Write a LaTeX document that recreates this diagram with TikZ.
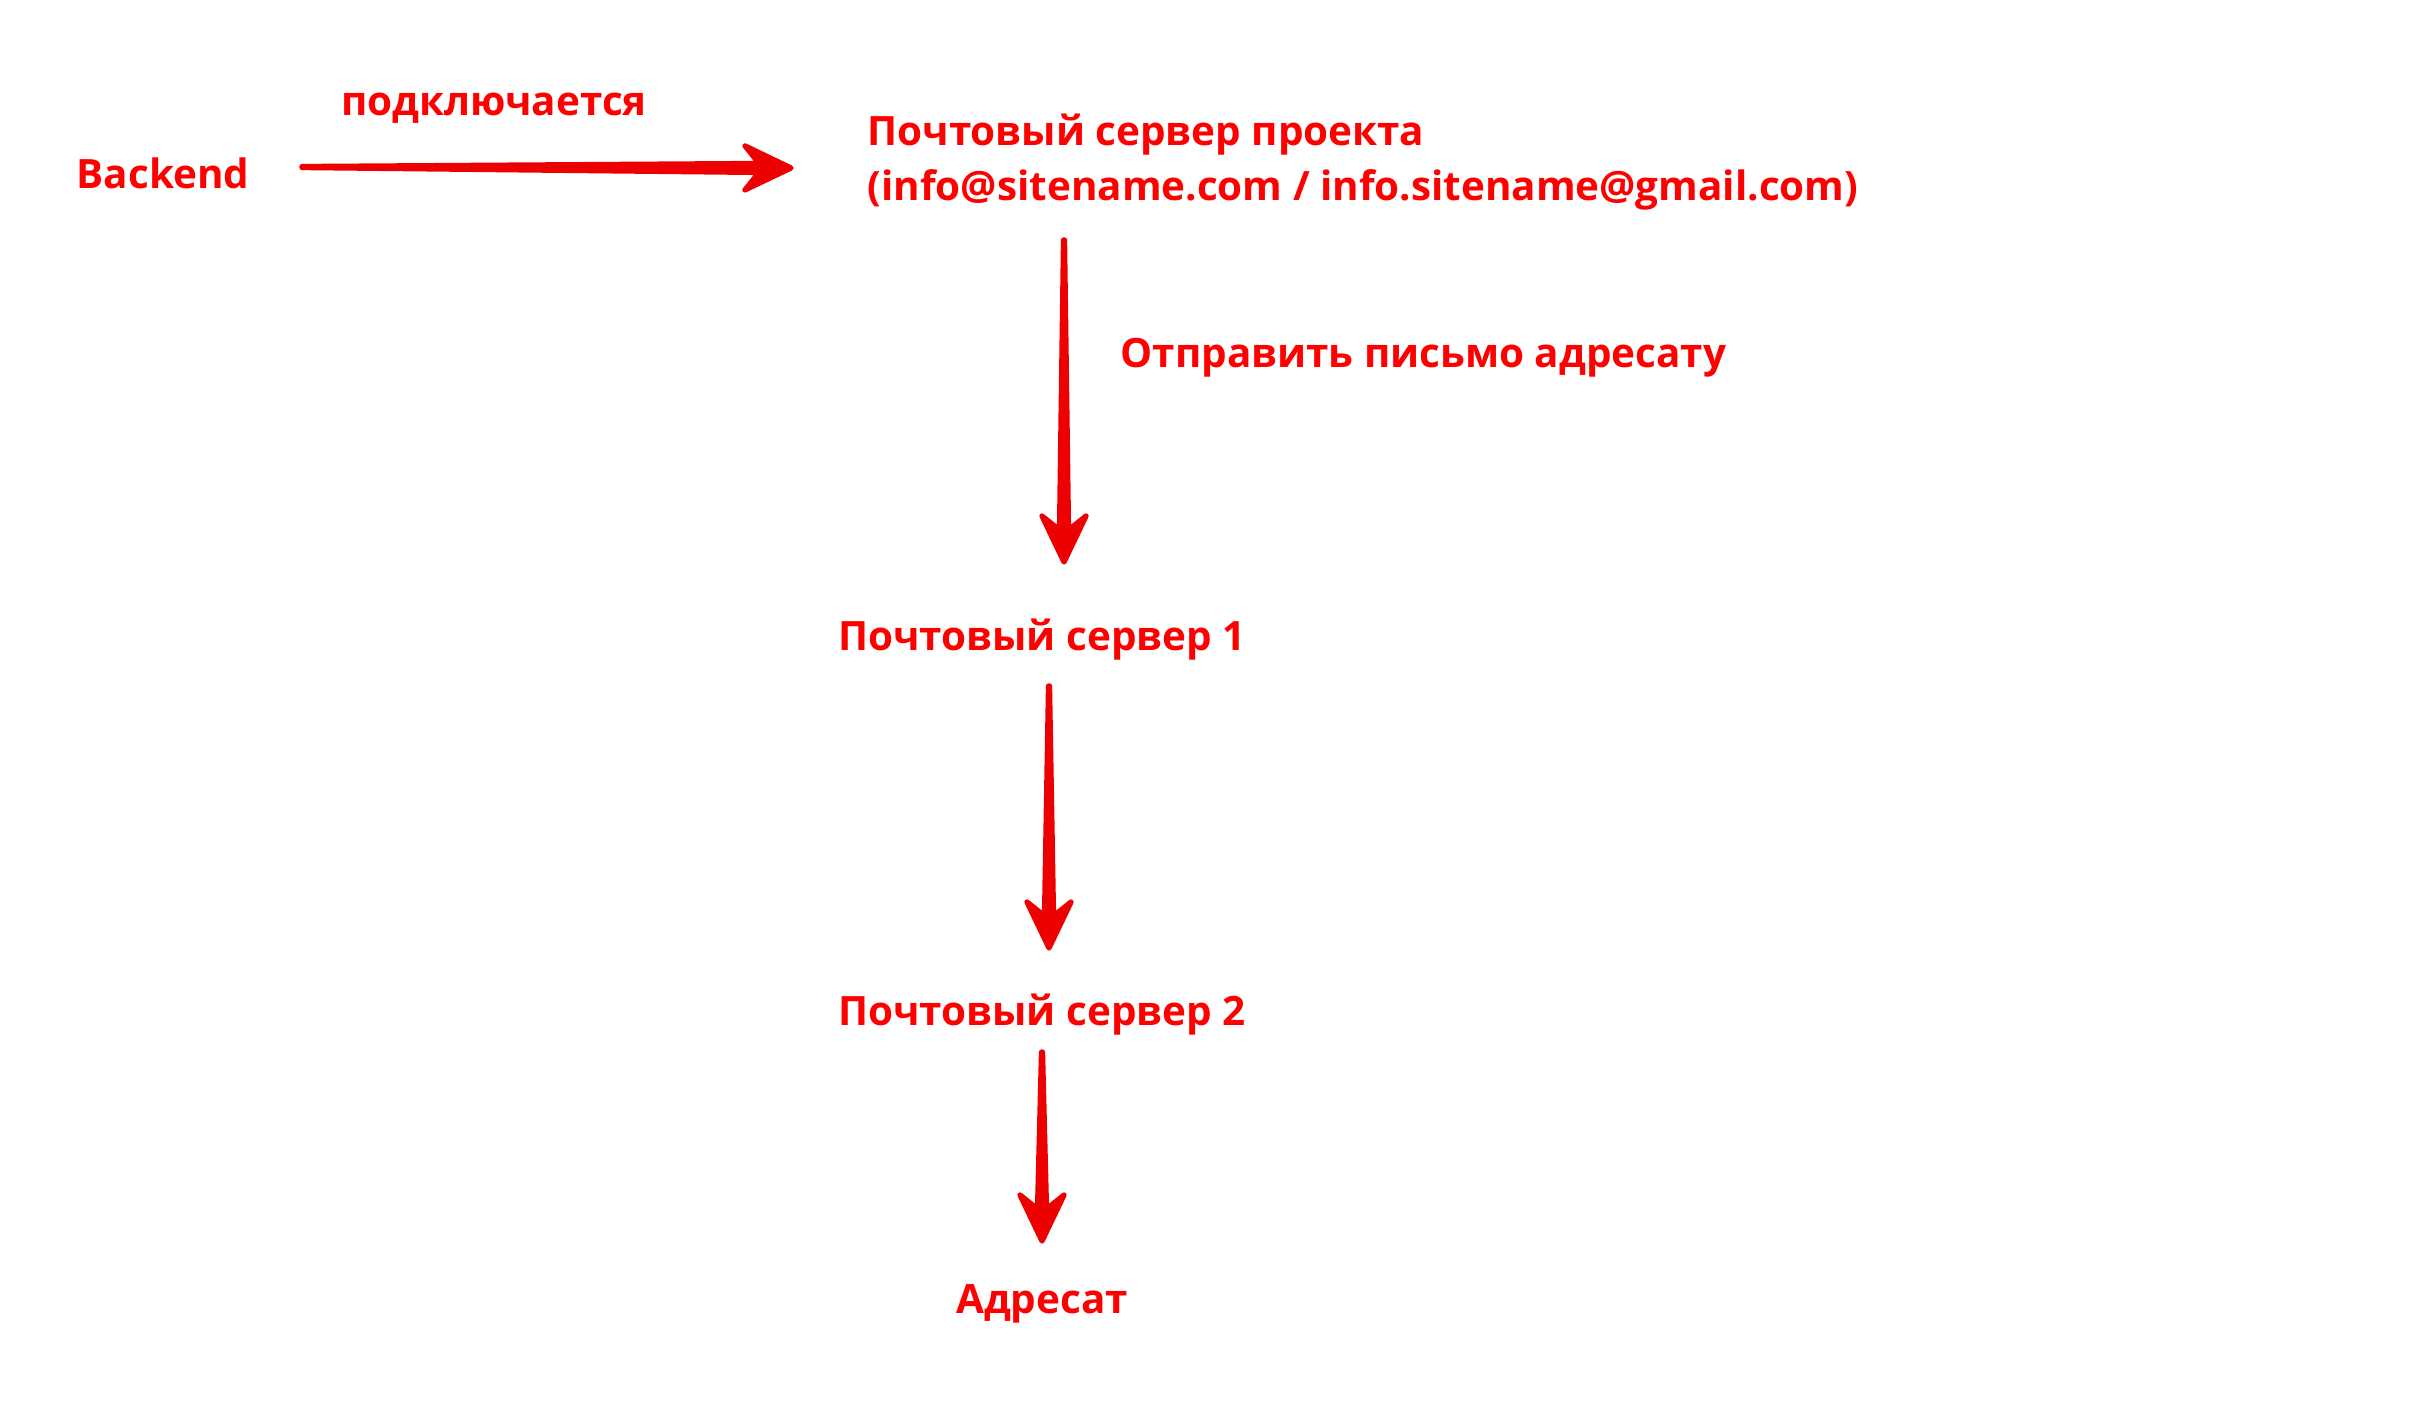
\documentclass[tikz,border=0pt]{standalone}
\usepackage{fontspec}
\setmainfont{Open Sans}
\usepackage{tikz}
\usetikzlibrary{positioning}
\usetikzlibrary{calc}

\definecolor{flowred}{RGB}{236,0,0}
\definecolor{labelred}{RGB}{255,0,0}

\tikzset{
  redlabel/.style={text=labelred, inner sep=0pt, anchor=base,
    font=\fontsize{11.5}{15.6}\selectfont\bfseries},
  flowhead/.style={fill=flowred, draw=flowred, line width=1.5pt, line join=round}
}

% tapered arrow between two named points
\newcommand{\flowarrow}[2]{%
  \coordinate (fj) at ($(#2)!0.32cm!(#1)$);
  \coordinate (fb) at ($(#2)!0.46cm!(#1)$);
  \filldraw[flowhead]
    ($(#1)!0.005cm!90:(#2)$) -- ($(fj)!0.045cm!90:(#2)$) -- ($(fb)!0.22cm!90:(#2)$) -- (#2)
    -- ($(fb)!0.22cm!-90:(#2)$) -- ($(fj)!0.045cm!-90:(#2)$) -- ($(#1)!0.005cm!-90:(#2)$) -- cycle;
}

\begin{document}
\begin{tikzpicture}

\useasboundingbox (0,0) rectangle (24.29,-14.13);

\node[redlabel] (backend) at (1.63,-1.88) {Backend};
\node[redlabel] (connects) at (4.94,-1.15) {подключается};
\node[redlabel, anchor=base west, align=left] (mailsrv) at (8.67,-2.00)
  {Почтовый сервер проекта\\(info@sitename.com / info.sitename@gmail.com)};
\node[redlabel, anchor=base west] (sendlabel) at (11.20,-3.67) {Отправить письмо адресату};
\node[redlabel] (srvone) at (10.42,-6.50) {Почтовый сервер 1};
\node[redlabel] (srvtwo) at (10.42,-10.25) {Почтовый сервер 2};
\node[redlabel] (rcpt) at (10.42,-13.13) {Адресат};

\coordinate (backend-out) at (3.02,-1.67);
\coordinate (mailsrv-in) at (7.91,-1.68);
\coordinate (mailsrv-out) at (10.64,-2.40);
\coordinate (srvone-in) at (10.64,-5.62);
\coordinate (srvone-out) at (10.49,-6.86);
\coordinate (srvtwo-in) at (10.49,-9.48);
\coordinate (srvtwo-out) at (10.42,-10.52);
\coordinate (rcpt-in) at (10.42,-12.41);

\flowarrow{backend-out}{mailsrv-in}
\flowarrow{mailsrv-out}{srvone-in}
\flowarrow{srvone-out}{srvtwo-in}
\flowarrow{srvtwo-out}{rcpt-in}

\end{tikzpicture}
\end{document}
